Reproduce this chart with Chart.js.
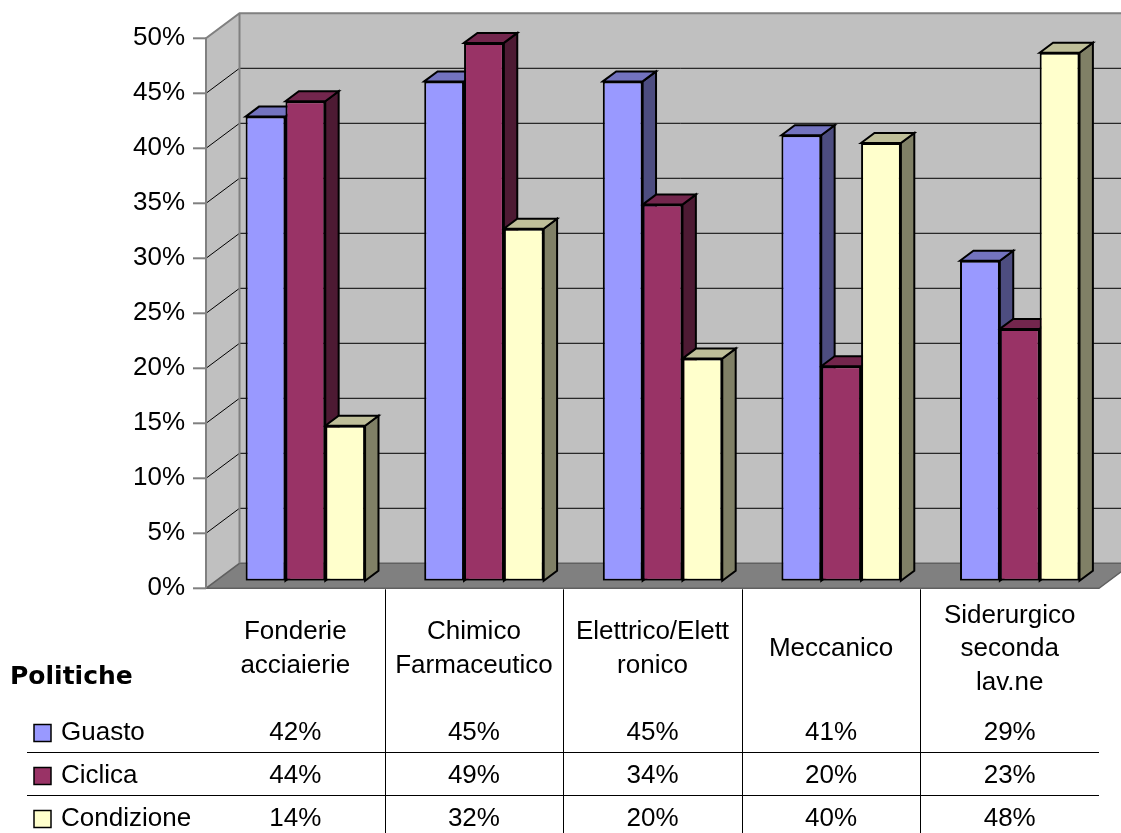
<!DOCTYPE html>
<html>
<head>
<meta charset="utf-8">
<script src="https://cdn.jsdelivr.net/npm/chart.js@4"></script>
<style>
  html, body { margin: 0; padding: 0; background: #ffffff; }
  canvas { display: block; }
</style>
</head>
<body>
<canvas id="c" width="1121" height="833"></canvas>
<script>
// ---- data ----
const categories = [
  ["Fonderie", "acciaierie"],
  ["Chimico", "Farmaceutico"],
  ["Elettrico/Elett", "ronico"],
  ["Meccanico"],
  ["Siderurgico", "seconda", "lav.ne"]
];
const seriesNames = ["Guasto", "Ciclica", "Condizione"];
const guasto     = [0.422, 0.454, 0.454, 0.405, 0.291];
const ciclica    = [0.436, 0.489, 0.342, 0.195, 0.229];
const condizione = [0.141, 0.320, 0.202, 0.398, 0.480];
const tableTitle = "Politiche";
const yTicks = [0, 0.05, 0.10, 0.15, 0.20, 0.25, 0.30, 0.35, 0.40, 0.45, 0.50];

// ---- styles ----
const FONT = '"Liberation Sans", Arial, sans-serif';
const frontColors = ["#9999FF", "#993366", "#FFFFCC"];
const topColors   = ["#7373BF", "#73264D", "#BFBF99"];
const sideColors  = ["#4D4D80", "#4D1A33", "#808066"];
const G = { depthX: 33.5, depthY: -25, barFront: 0.3, barBack: 0.7 };

const threeD = {
  id: 'threeD',
  beforeDatasetsDraw(chart) {
    const { ctx, chartArea: a, scales: { x, y } } = chart;
    const ax = -G.barFront * G.depthX, ay = -G.barFront * G.depthY;
    const Dx = G.depthX, Dy = G.depthY;
    const L = a.left + ax, R = a.right + ax;
    const yb0 = y.getPixelForValue(0) + ay;
    const ybT = y.getPixelForValue(y.max) + ay;
    const W = chart.width;
    ctx.save();
    // back wall
    ctx.fillStyle = '#C0C0C0';
    ctx.fillRect(L + Dx, ybT + Dy, W - (L + Dx), yb0 - ybT);
    // side wall
    ctx.beginPath();
    ctx.moveTo(L, ybT); ctx.lineTo(L + Dx, ybT + Dy); ctx.lineTo(L + Dx, yb0 + Dy); ctx.lineTo(L, yb0);
    ctx.closePath(); ctx.fill();
    // floor
    ctx.fillStyle = '#808080';
    ctx.beginPath();
    ctx.moveTo(L, yb0); ctx.lineTo(R, yb0); ctx.lineTo(R + Dx, yb0 + Dy); ctx.lineTo(L + Dx, yb0 + Dy);
    ctx.closePath(); ctx.fill();
    ctx.strokeStyle = '#606060'; ctx.lineWidth = 1.5;
    ctx.stroke();
    // gridlines
    ctx.strokeStyle = '#000'; ctx.lineWidth = 1;
    yTicks.forEach(v => {
      if (v <= 0 || v >= y.max) return;
      const yy = y.getPixelForValue(v) + ay;
      ctx.beginPath();
      ctx.moveTo(L, yy); ctx.lineTo(L + Dx, yy + Dy); ctx.lineTo(W, yy + Dy);
      ctx.stroke();
    });
    // wall edges
    ctx.strokeStyle = '#808080'; ctx.lineWidth = 2;
    ctx.beginPath();
    ctx.moveTo(L, yb0); ctx.lineTo(L, ybT); ctx.lineTo(L + Dx, ybT + Dy); ctx.lineTo(W, ybT + Dy);
    ctx.moveTo(L + Dx, ybT + Dy); ctx.lineTo(L + Dx, yb0 + Dy);
    ctx.stroke();
    // tick marks
    yTicks.forEach(v => {
      const yy = y.getPixelForValue(v) + ay;
      ctx.beginPath(); ctx.moveTo(L - 13, yy); ctx.lineTo(L, yy); ctx.stroke();
    });
    // 3D bar faces
    const bx = (G.barBack - G.barFront) * Dx, by = (G.barBack - G.barFront) * Dy;
    ctx.lineWidth = 2; ctx.strokeStyle = '#000'; ctx.lineJoin = 'miter';
    for (let i = 0; i < categories.length; i++) {
      chart.data.datasets.forEach((ds, d) => {
        const el = chart.getDatasetMeta(d).data[i];
        const l = el.x - el.width / 2, r = el.x + el.width / 2, t = el.y, b = el.base;
        ctx.fillStyle = sideColors[d];
        ctx.beginPath();
        ctx.moveTo(r, t); ctx.lineTo(r + bx, t + by); ctx.lineTo(r + bx, b + by); ctx.lineTo(r, b);
        ctx.closePath(); ctx.fill(); ctx.stroke();
        ctx.fillStyle = topColors[d];
        ctx.beginPath();
        ctx.moveTo(l, t); ctx.lineTo(l + bx, t + by); ctx.lineTo(r + bx, t + by); ctx.lineTo(r, t);
        ctx.closePath(); ctx.fill(); ctx.stroke();
      });
    }
    ctx.restore();
  },
  afterDraw(chart) {
    const { ctx, chartArea: a, scales: { x, y } } = chart;
    const ax = -G.barFront * G.depthX, ay = -G.barFront * G.depthY;
    const yb0 = y.getPixelForValue(0) + ay;
    const L = a.left + ax, R = a.right + ax;
    const cw = (R - L) / categories.length;
    const H = chart.height;
    ctx.save();
    ctx.fillStyle = '#000';
    ctx.textBaseline = 'middle';
    // category labels
    ctx.font = '26px ' + FONT;
    ctx.textAlign = 'center';
    const lh = 33.5, midY = 649;
    categories.forEach((lines, i) => {
      const cx = x.getPixelForValue(i) + ax;
      const y0 = midY - (lines.length - 1) * lh / 2;
      lines.forEach((s, k) => ctx.fillText(s, cx, y0 + k * lh));
    });
    // title
    ctx.font = 'bold 25px "DejaVu Sans", ' + FONT;
    ctx.textAlign = 'left';
    ctx.fillText(tableTitle, 10, 677);
    // rows
    const series = [guasto, ciclica, condizione];
    const rowY = [733, 776, 819];
    ctx.font = '26px ' + FONT;
    series.forEach((vals, d) => {
      const ry = rowY[d];
      ctx.fillStyle = frontColors[d];
      ctx.fillRect(34, ry - 8.5, 17, 17);
      ctx.strokeStyle = '#000'; ctx.lineWidth = 1.5;
      ctx.strokeRect(34, ry - 8.5, 17, 17);
      ctx.fillStyle = '#000';
      ctx.textAlign = 'left';
      ctx.fillText(seriesNames[d], 61, ry);
      ctx.textAlign = 'center';
      vals.forEach((v, i) => ctx.fillText(Math.round(v * 100) + '%', x.getPixelForValue(i) + ax, ry));
    });
    // table lines
    ctx.strokeStyle = '#000'; ctx.lineWidth = 1;
    [752, 795].forEach(yy => {
      ctx.beginPath(); ctx.moveTo(27, yy + 0.5); ctx.lineTo(R, yy + 0.5); ctx.stroke();
    });
    for (let i = 1; i < categories.length; i++) {
      const xx = Math.round(L + i * cw) + 0.5;
      ctx.beginPath(); ctx.moveTo(xx, yb0 + 1); ctx.lineTo(xx, H); ctx.stroke();
    }
    ctx.restore();
  }
};

const datasets = [guasto, ciclica, condizione].map((vals, d) => ({
  label: seriesNames[d],
  data: vals,
  backgroundColor: frontColors[d],
  borderColor: '#000',
  borderWidth: 2,
  borderSkipped: false,
  categoryPercentage: 0.669,
  barPercentage: 1.0
}));

new Chart(document.getElementById('c'), {
  type: 'bar',
  data: { labels: categories.map(c => c.join(' ')), datasets },
  options: {
    responsive: false,
    devicePixelRatio: 1,
    animation: false,
    layout: { padding: { left: 0, right: 11.95, top: 30.8, bottom: 252.2 } },
    plugins: { legend: { display: false }, tooltip: { enabled: false } },
    scales: {
      x: { display: false, offset: true },
      y: {
        min: 0, max: 0.5,
        afterFit: s => { s.width = 216.05; s.paddingTop = 0; s.paddingBottom = 0; },
        afterBuildTicks: s => { s.ticks = yTicks.map(v => ({ value: v })); },
        grid: { display: false, drawTicks: false },
        border: { display: false },
        ticks: {
          font: { family: FONT, size: 26 },
          color: '#000',
          padding: 31,
          labelOffset: 7.5,
          callback: v => Math.round(v * 100) + '%'
        }
      }
    }
  },
  plugins: [threeD]
});
</script>
</body>
</html>
